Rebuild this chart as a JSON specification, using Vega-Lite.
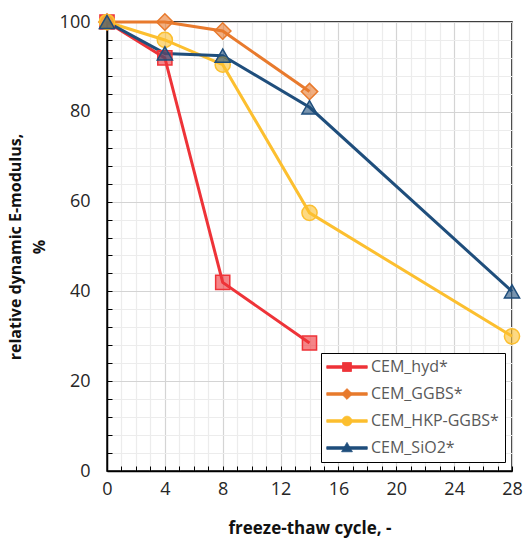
{
  "$schema": "https://vega.github.io/schema/vega-lite/v6.json",
  "autosize": "none",
  "width": 405,
  "height": 449,
  "padding": {"left": 107, "top": 22, "right": 11, "bottom": 67},
  "background": "white",
  "config": {
    "font": "Open Sans",
    "view": {"stroke": "black", "strokeWidth": 1.5},
    "axis": {
      "labelFont": "Open Sans",
      "labelFontSize": 18,
      "labelColor": "#262626",
      "titleFont": "Open Sans",
      "titleFontSize": 17,
      "titleFontWeight": "bold",
      "titleColor": "#111111",
      "domainColor": "black",
      "domainWidth": 1.5,
      "tickColor": "black",
      "tickWidth": 1
    }
  },
  "data": {
    "values": [
      {"series": "CEM_hyd*", "cycle": 0, "value": 100},
      {"series": "CEM_hyd*", "cycle": 4, "value": 92},
      {"series": "CEM_hyd*", "cycle": 8, "value": 42},
      {"series": "CEM_hyd*", "cycle": 14, "value": 28.5},
      {"series": "CEM_GGBS*", "cycle": 0, "value": 100},
      {"series": "CEM_GGBS*", "cycle": 4, "value": 100},
      {"series": "CEM_GGBS*", "cycle": 8, "value": 98},
      {"series": "CEM_GGBS*", "cycle": 14, "value": 84.5},
      {"series": "CEM_HKP-GGBS*", "cycle": 0, "value": 100},
      {"series": "CEM_HKP-GGBS*", "cycle": 4, "value": 96},
      {"series": "CEM_HKP-GGBS*", "cycle": 8, "value": 90.5},
      {"series": "CEM_HKP-GGBS*", "cycle": 14, "value": 57.5},
      {"series": "CEM_HKP-GGBS*", "cycle": 28, "value": 30},
      {"series": "CEM_SiO2*", "cycle": 0, "value": 100},
      {"series": "CEM_SiO2*", "cycle": 4, "value": 93},
      {"series": "CEM_SiO2*", "cycle": 8, "value": 92.5},
      {"series": "CEM_SiO2*", "cycle": 14, "value": 81},
      {"series": "CEM_SiO2*", "cycle": 28, "value": 40}
    ]
  },
  "encoding": {
    "x": {
      "field": "cycle",
      "type": "quantitative",
      "scale": {"domain": [0, 28], "nice": false},
      "axis": {
        "title": "freeze-thaw cycle, -",
        "values": [0,1,2,3,4,5,6,7,8,9,10,11,12,13,14,15,16,17,18,19,20,21,22,23,24,25,26,27,28],
        "labelExpr": "datum.value % 4 === 0 ? datum.label : ''",
        "labelFlush": false,
        "labelOverlap": false,
        "grid": true,
        "gridColor": {"condition": {"test": "datum.value % 4 === 0", "value": "#d4d4d4"}, "value": "#ececec"},
        "gridWidth": 1.2,
        "tickSize": -5,
        "labelPadding": 14,
        "titlePadding": 22
      }
    },
    "y": {
      "field": "value",
      "type": "quantitative",
      "scale": {"domain": [0, 100], "nice": false},
      "axis": {
        "title": ["relative dynamic E-modulus,", "%"],
        "values": [0,4,8,12,16,20,24,28,32,36,40,44,48,52,56,60,64,68,72,76,80,84,88,92,96,100],
        "labelExpr": "datum.value % 20 === 0 ? datum.label : ''",
        "labelOverlap": false,
        "grid": true,
        "gridColor": {"condition": {"test": "datum.value % 20 === 0", "value": "#d4d4d4"}, "value": "#ececec"},
        "gridWidth": 1.2,
        "tickSize": -5,
        "labelPadding": 22,
        "titlePadding": 12,
        "titleFontSize": 16,
        "titleLineHeight": 24
      }
    },
    "color": {
      "field": "series",
      "type": "nominal",
      "scale": {
        "domain": ["CEM_hyd*", "CEM_GGBS*", "CEM_HKP-GGBS*", "CEM_SiO2*"],
        "range": ["#ee3338", "#e87a2d", "#fcbf2f", "#1f4e7c"]
      },
      "legend": {
        "title": null,
        "orient": "none",
        "legendX": 214,
        "legendY": 331,
        "direction": "vertical",
        "fillColor": "white",
        "strokeColor": "black",
        "padding": 6,
        "cornerRadius": 0,
        "labelFont": "Open Sans",
        "labelFontSize": 16,
        "labelColor": "#595959",
        "labelLimit": 200,
        "symbolSize": 225,
        "symbolOffset": 12,
        "labelOffset": 16,
        "rowPadding": 11,
        "symbolOpacity": 1,
        "symbolStrokeWidth": 0.8
      }
    }
  },
  "layer": [
    {
      "mark": {"type": "line", "strokeWidth": 3}
    },
    {
      "mark": {"type": "point", "filled": true, "size": 0, "strokeWidth": 0},
      "encoding": {
        "shape": {
          "field": "series",
          "type": "nominal",
          "scale": {
            "domain": ["CEM_hyd*", "CEM_GGBS*", "CEM_HKP-GGBS*", "CEM_SiO2*"],
            "range": [
              "M-2.7,-0.18H2.7V0.18H-2.7Z M-0.6,-0.6H0.6V0.6H-0.6Z",
              "M-2.7,-0.18H2.7V0.18H-2.7Z M0,-0.72L0.72,0L0,0.72L-0.72,0Z",
              "M-2.7,-0.18H2.7V0.18H-2.7Z M0.65,0A0.65,0.65 0 1,1 -0.65,0A0.65,0.65 0 1,1 0.65,0Z",
              "M-2.7,-0.18H2.7V0.18H-2.7Z M0,-0.75L0.72,0.5L-0.72,0.5Z"
            ]
          }
        }
      }
    },
    {
      "transform": [{"filter": "datum.series === 'CEM_hyd*'"}],
      "mark": {"type": "point", "shape": "square", "filled": true, "fillOpacity": 0.6, "strokeWidth": 1.5, "size": 200, "stroke": "#ee3338"}
    },
    {
      "transform": [{"filter": "datum.series === 'CEM_GGBS*'"}],
      "mark": {"type": "point", "shape": "diamond", "filled": true, "fillOpacity": 0.6, "strokeWidth": 1.5, "size": 270, "stroke": "#e87a2d"}
    },
    {
      "transform": [{"filter": "datum.series === 'CEM_HKP-GGBS*'"}],
      "mark": {"type": "point", "shape": "circle", "filled": true, "fillOpacity": 0.6, "strokeWidth": 1.5, "size": 230, "stroke": "#fcbf2f"}
    },
    {
      "transform": [{"filter": "datum.series === 'CEM_SiO2*'"}],
      "mark": {"type": "point", "shape": "triangle-up", "filled": true, "fillOpacity": 0.6, "strokeWidth": 1.5, "size": 230, "stroke": "#1f4e7c"}
    }
  ]
}
